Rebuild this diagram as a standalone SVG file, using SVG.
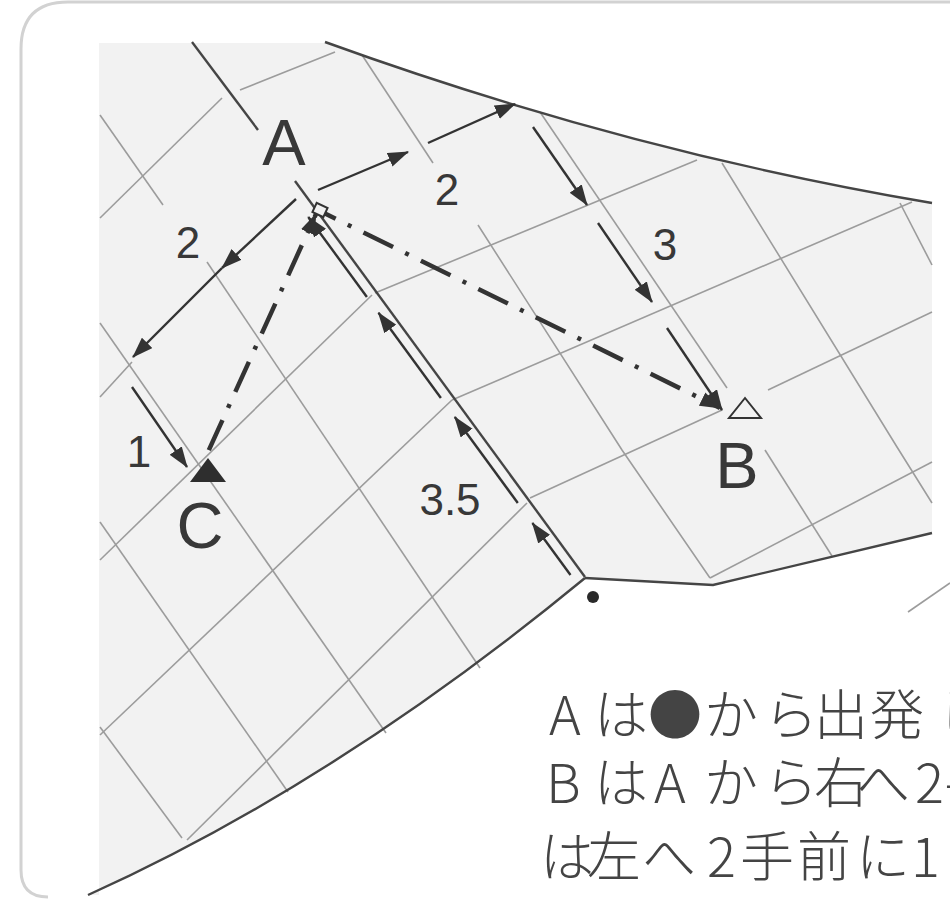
<svg xmlns="http://www.w3.org/2000/svg" width="950" height="899" viewBox="0 0 950 899">
<style>
.grid{fill:none;stroke:#9c9c9c;stroke-width:1.6}
.edge{fill:none;stroke:#454545;stroke-width:2.4}
.arw{fill:none;stroke:#333;stroke-width:2.4;marker-end:url(#ah)}
.dd{fill:none;stroke:#333;stroke-width:4.5;stroke-dasharray:33 13.5 4 13.5;marker-end:url(#ah)}
.lbl{font-family:"Liberation Sans",Arial,sans-serif;fill:#383838;text-anchor:middle}
.big{font-size:65px}
.num{font-size:44px}
.jp{font-family:"Noto Sans CJK JP","Noto Sans",sans-serif;font-size:54px;font-weight:300;fill:#444}
</style>
<defs>
<marker id="ah" viewBox="0 0 20 14" markerWidth="21" markerHeight="15" refX="19" refY="7" orient="auto" markerUnits="userSpaceOnUse">
<path d="M0,0 L20,7 L0,14 Z" fill="#333"/>
</marker>
</defs>
<rect width="950" height="899" fill="#fff"/>
<path id="frame" d="M950,2 H68 Q21,2 21,49 V870 Q21,897 48,897" fill="none" stroke="#d2d2d2" stroke-width="3"/>
<g id="fabric">
<path d="M99,43 H325 Q627.5,151.5 932,203 V533 L713,585 L585,578 Q335.5,783.5 88,895 L99,895 Z" fill="#f2f2f2"/>
</g>
<g id="grid" class="grid">
<polyline points="100,115 163,205"/>
<polyline points="207,262 480,668"/>
<polyline points="100,323 386,733"/>
<polyline points="100,522 288,792"/>
<polyline points="100,727 182,838"/>
<polyline points="100,218 222,98"/>
<polyline points="240,90 335,52"/>
<polyline points="100,397 132,362"/>
<polyline points="100,560 372,295"/>
<polyline points="100,735 452,400"/>
<polyline points="187,840 527,503"/>
<polyline points="362,55 433,163"/>
<polyline points="478,225 622,450 710,578"/>
<polyline points="540,112 727,388"/>
<polyline points="765,450 832,556"/>
<polyline points="722,163 897,447 932,503"/>
<polyline points="900,203 932,265"/>
<polyline points="375,293 697,160"/>
<polyline points="452,400 912,202"/>
<polyline points="530,498 722,410"/>
<polyline points="768,390 932,312"/>
<polyline points="710,578 932,462"/>
<polyline points="908,612 950,583"/>
</g>
<g id="outline" class="edge">
<path d="M325,42 Q627.5,151.5 932,203"/>
<path d="M932,533 L713,585 L585,578"/>
<path d="M585,578 Q335.5,783.5 88,895"/>
<path d="M192,42 L258,130"/>
<path d="M295,181 L585,577"/>
</g>
<g id="connectors">
<path class="dd" d="M208,452 L316,214" stroke-dashoffset="-2"/>
<path class="dd" d="M324,213 L720,408" stroke-dashoffset="20"/>
<path class="arw" d="M366.9,297 L308.3,217"/>
<path class="arw" d="M440.9,398 L378.5,312.8"/>
<path class="arw" d="M517.8,503 L454.8,417"/>
<path class="arw" d="M570.5,575 L532.4,523"/>
<path class="arw" d="M318,190 L408,152"/>
<path class="arw" d="M428,143 L515,104"/>
<path class="arw" d="M296,199 L222,268"/>
<path class="arw" d="M222,268 L133,357"/>
<path class="arw" d="M533,127 L587,205"/>
<path class="arw" d="M598,223 L652,302"/>
<path class="arw" d="M667,328 L722,410"/>
<path class="arw" d="M132,387 L187,467"/>
</g>
<g id="measures" class="lbl num">
<text x="447" y="205">2</text>
<text x="188" y="258">2</text>
<text x="665" y="260">3</text>
<text x="139" y="467">1</text>
<text x="450" y="515">3.5</text>
</g>
<g id="node-A">
<rect x="-6" y="-5" width="12" height="10" transform="translate(320,210) rotate(25)" fill="#f2f2f2" stroke="#333" stroke-width="2"/>
<text class="lbl big" x="284" y="165">A</text>
</g>
<g id="node-B">
<polygon points="745,398 729,418 761,418" fill="none" stroke="#333" stroke-width="2"/>
<text class="lbl big" x="737" y="488">B</text>
</g>
<g id="node-C">
<polygon points="208,458 190,482 226,482" fill="#2e2e2e"/>
<text class="lbl big" x="200" y="548">C</text>
</g>
<g id="node-start">
<circle cx="593" cy="597" r="6" fill="#2a2a2a"/>
</g>
<g id="caption" class="jp">
<text x="549 594 648 704 764 814 870 936" y="735">Aは●から出発し</text>
<text x="546 594 654 704 764 814 856 915 944" y="803">BはAから右へ2手</text>
<text x="540 587 642 707 740 797 856 911" y="877">は左へ2手前に1</text>
</g>
</svg>
